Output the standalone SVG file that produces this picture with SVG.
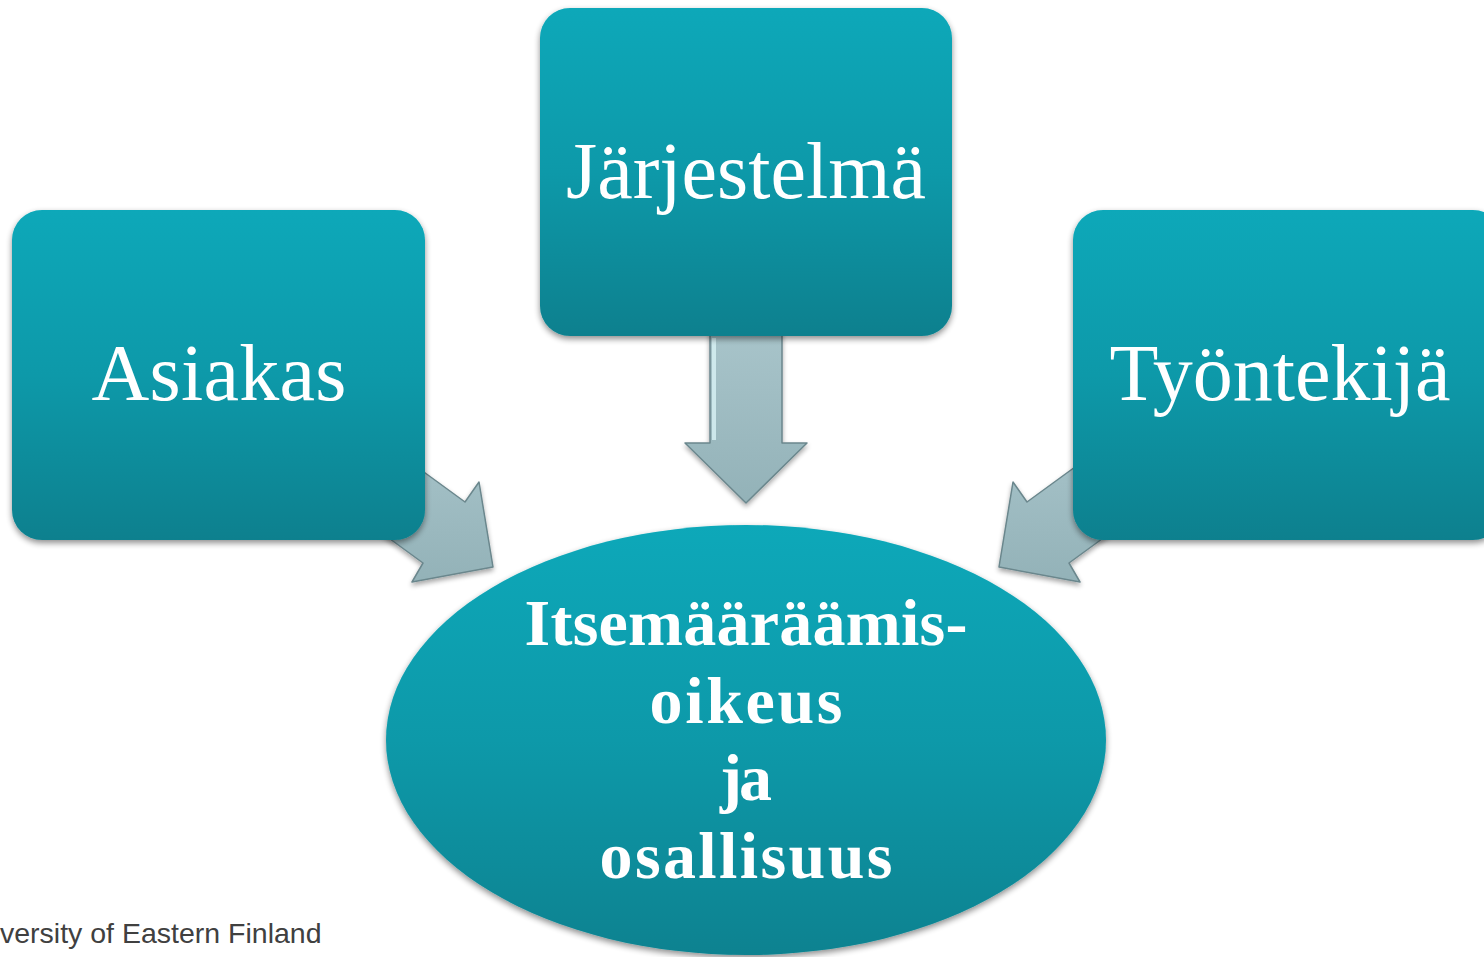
<svg xmlns="http://www.w3.org/2000/svg" width="1484" height="957" viewBox="0 0 1484 957">
<style>
.box{fill:url(#gBox);filter:url(#sh)}
.arr{fill:url(#gArr);stroke:#6b878d;stroke-width:1.5;stroke-linejoin:round;filter:url(#sh2)}
.lbl{font-family:"Liberation Serif","DejaVu Serif",serif;font-size:80px;fill:#ffffff;text-anchor:middle}
.mid{font-family:"Liberation Serif","DejaVu Serif",serif;font-size:66px;font-weight:bold;fill:#ffffff;text-anchor:middle}
.foot{font-family:"Liberation Sans",Arial,sans-serif;font-size:28.5px;fill:#404040}
</style>
<defs>
<linearGradient id="gBox" x1="0" y1="0" x2="0" y2="1">
<stop offset="0" stop-color="#08a8b9"/>
<stop offset="0.5" stop-color="#0999a9"/>
<stop offset="1" stop-color="#08808e"/>
</linearGradient>
<linearGradient id="gEll" x1="0" y1="0" x2="0" y2="1">
<stop offset="0" stop-color="#08a8b9"/>
<stop offset="0.5" stop-color="#0999a9"/>
<stop offset="1" stop-color="#088290"/>
</linearGradient>
<linearGradient id="gArr" x1="0" y1="0" x2="0" y2="1">
<stop offset="0" stop-color="#a8c4ca"/>
<stop offset="1" stop-color="#93b2b8"/>
</linearGradient>
<filter id="sh" x="-10%" y="-10%" width="120%" height="125%">
<feGaussianBlur in="SourceAlpha" stdDeviation="3"/>
<feOffset dx="0" dy="3" result="b"/>
<feComponentTransfer><feFuncA type="linear" slope="0.45"/></feComponentTransfer>
<feMerge><feMergeNode/><feMergeNode in="SourceGraphic"/></feMerge>
</filter>
<filter id="sh2" x="-10%" y="-10%" width="120%" height="125%">
<feGaussianBlur in="SourceAlpha" stdDeviation="2.5"/>
<feOffset dx="0" dy="3" result="b"/>
<feComponentTransfer><feFuncA type="linear" slope="0.35"/></feComponentTransfer>
<feMerge><feMergeNode/><feMergeNode in="SourceGraphic"/></feMerge>
</filter>
</defs>
<g id="connectors">
<polygon class="arr" points="369,432 465,502 479,482 493,567 412,582 423,563 327,493"/>
<polygon class="arr" points="1123,432 1027,502 1013,482 999,567 1080,582 1069,563 1165,493"/>
<polygon class="arr" points="710,330 782,330 782,443 807,443 746,503 685,443 710,443"/>
<line x1="714" y1="338" x2="714" y2="440" stroke="#d9f3f6" stroke-width="4" opacity="0.8"/>
</g>
<g id="asiakas">
<rect class="box" x="12" y="210" width="413" height="330" rx="30"/>
<text class="lbl" x="219" y="400" textLength="255">Asiakas</text>
</g>
<g id="jarjestelma">
<rect class="box" x="540" y="8" width="412" height="328" rx="30"/>
<text class="lbl" x="746" y="198">Järjestelmä</text>
</g>
<g id="tyontekija">
<rect class="box" x="1073" y="210" width="430" height="330" rx="30"/>
<text class="lbl" x="1280" y="400">Työntekijä</text>
</g>
<g id="itsemaaraamisoikeus">
<ellipse cx="746" cy="740" rx="360" ry="215" fill="url(#gEll)" filter="url(#sh)"/>
<text class="mid" x="746" y="645" textLength="443">Itsemääräämis-</text>
<text class="mid" x="746" y="723" textLength="193">oikeus</text>
<text class="mid" x="746" y="800" textLength="52">ja</text>
<text class="mid" x="746" y="878" textLength="293">osallisuus</text>
</g>
<text class="foot" x="0" y="943">versity of Eastern Finland</text>
</svg>
